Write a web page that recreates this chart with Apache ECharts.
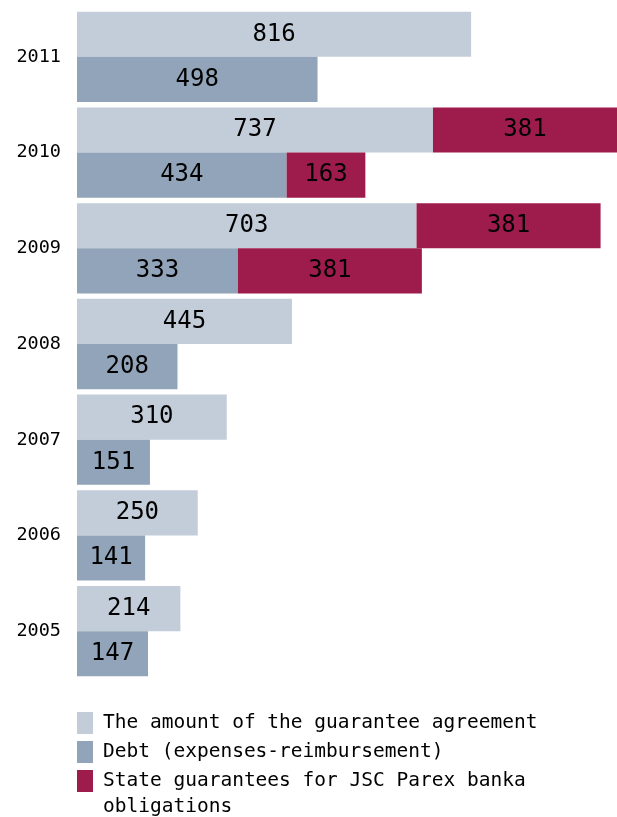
<!DOCTYPE html>
<html>
<head>
<meta charset="utf-8">
<script src="https://cdn.jsdelivr.net/npm/echarts@6/dist/echarts.min.js"></script>
<style>
html,body{margin:0;padding:0;background:#fff;}
#chart{width:617px;height:817px;}
</style>
</head>
<body>
<div id="chart"></div>
<script>
const years = ['2005','2006','2007','2008','2009','2010','2011'];
const amount = [214,250,310,445,703,737,816];
const debt = [147,141,151,208,333,434,498];
const parexOnAmount = [null,null,null,null,381,381,null];
const parexOnDebt = [null,null,null,null,381,163,null];

const nameAmount = 'The amount of the guarantee agreement';
const nameDebt = 'Debt (expenses-reimbursement)';
const nameParex = 'State guarantees for JSC Parex banka obligations';

const FONT = '"DejaVu Sans Mono", monospace';
const cLight = '#c3cdd9', cDark = '#91a4b9', cRed = '#9e1c4b';

const lbl = {show:true, position:'inside', color:'#000', fontFamily:FONT, fontSize:24};
const legText = {fontFamily:FONT, fontSize:19.5, color:'#000', lineHeight:26, width:460, overflow:'break', padding:[0,0,0,5]};

const chart = echarts.init(document.getElementById('chart'), null, {renderer:'canvas'});
chart.setOption({
  animation:false,
  grid:{left:77, right:0, top:9, bottom:138},
  xAxis:{type:'value', min:0, max:1118, show:false},
  yAxis:{type:'category', data:years,
    axisLine:{show:false}, axisTick:{show:false}, splitLine:{show:false},
    axisLabel:{color:'#000', fontFamily:FONT, fontSize:18.5, margin:16}},
  legend:[
    {orient:'vertical', left:77, top:710, padding:0, itemWidth:16, itemHeight:22, itemGap:3,
      icon:'rect', selectedMode:false, textStyle:legText,
      data:[{name:nameAmount},{name:nameDebt}]},
    {orient:'vertical', left:77, top:742, padding:0, itemWidth:16, itemHeight:22, itemGap:3,
      icon:'rect', selectedMode:false, textStyle:legText,
      formatter: function(n){ return '\n' + n; },
      data:[{name:nameParex}]}
  ],
  series:[
    {name:nameAmount, type:'bar', stack:'a', data:amount, itemStyle:{color:cLight}, label:lbl, barGap:'0%', barCategoryGap:'5.7%'},
    {name:nameParex, type:'bar', stack:'a', data:parexOnAmount, itemStyle:{color:cRed}, label:lbl},
    {name:nameDebt, type:'bar', stack:'b', data:debt, itemStyle:{color:cDark}, label:lbl, barGap:'0%', barCategoryGap:'5.7%'},
    {name:nameParex, type:'bar', stack:'b', data:parexOnDebt, itemStyle:{color:cRed}, label:lbl}
  ]
});
</script>
</body>
</html>
